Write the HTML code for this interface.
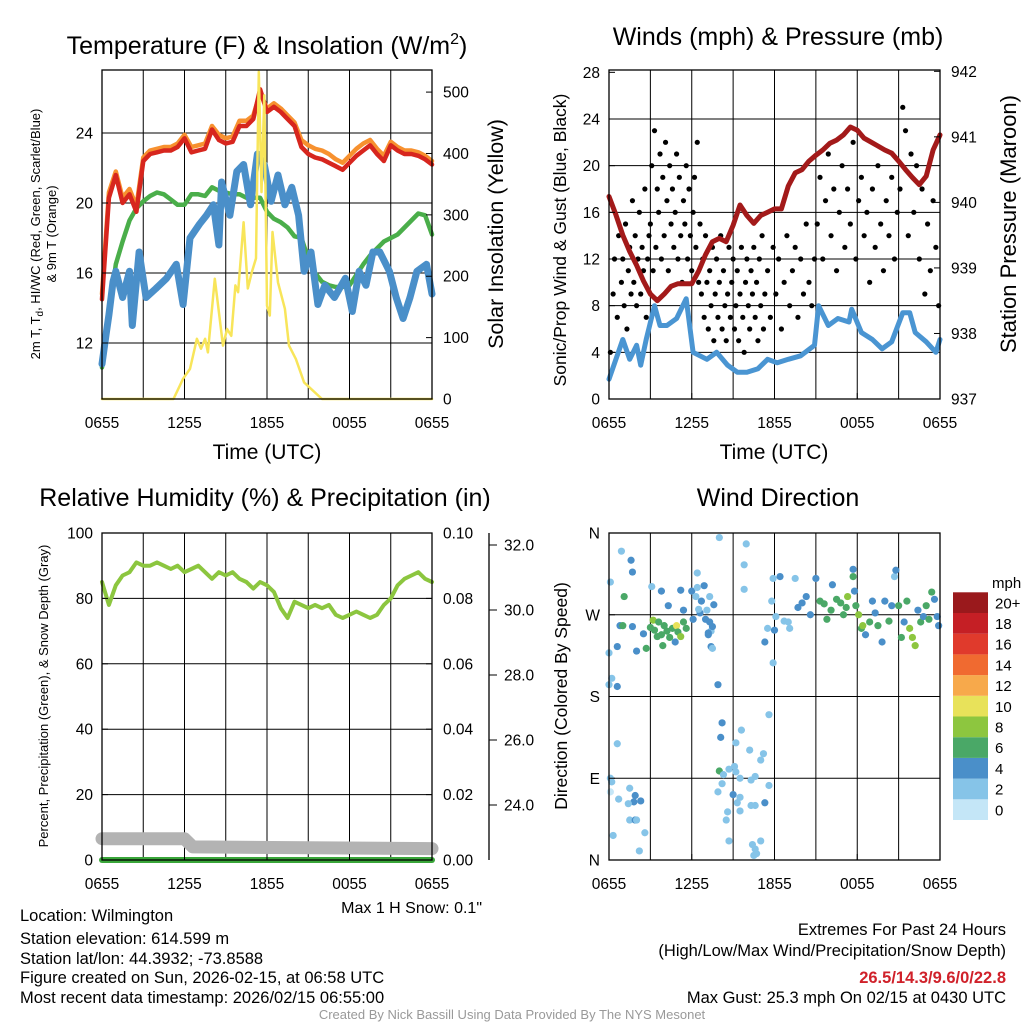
<!DOCTYPE html>
<html><head><meta charset="utf-8"><style>
body{margin:0;background:#fff}
svg{font-family:"Liberation Sans",Arial,sans-serif;display:block}
</style></head><body>
<svg id="c" width="1024" height="1024" viewBox="0 0 1024 1024"></svg>
<script>
// ---- data ----
const xTickLabels=["0655","1255","1855","0055","0655"];
const tempRed=[14.5,20.3,21.6,20,20.5,19.5,22.4,22.8,22.9,23,23,23.2,23.7,22.9,23,23.1,24.2,23.6,23.4,23.5,24.4,24.4,24.8,26.5,25.2,25.5,25.2,24.8,24.4,23.2,22.8,22.6,22.5,22.3,22.1,21.9,22.3,22.7,23,23.3,22.8,22.4,23.3,23,22.8,22.8,22.7,22.5,22.2];
const tempOrange=[14.8,20.6,21.8,20.3,20.8,19.8,22.6,23,23.1,23.2,23.2,23.4,23.9,23.2,23.3,23.4,24.4,23.9,23.7,23.8,24.7,24.7,25,26.3,25.4,25.7,25.4,25,24.6,23.6,23.3,23.1,23,22.8,22.5,22.3,22.7,23.1,23.4,23.6,23.1,22.7,23.5,23.2,23,23,22.9,22.7,22.4];
const tempGreen=[10.6,13.5,16.5,17.8,19.0,19.7,20.1,20.4,20.6,20.5,20.2,19.9,19.9,20.5,20.5,20.4,20.9,20.7,20.6,20.5,20.5,20.3,20.3,20.3,19.5,19.1,18.9,18.6,18.1,18.0,16.8,16.0,15.5,15.3,15.2,15.2,15.3,15.9,16.5,17.0,17.4,17.8,18.0,18.2,18.6,19.0,19.4,19.3,18.2];
const blueT=[0,0.3,0.5,0.8,1,1.5,2,2.2,2.7,3.2,3.9,4.7,5.4,5.9,6.4,7.1,7.6,8.1,8.5,8.7,9.3,9.8,10.3,10.8,11.3,11.8,12.3,12.8,13.3,13.8,14.3,14.7,15.2,15.7,16.2,16.9,17.7,18.2,18.7,19.2,19.7,20.2,20.9,21.4,21.9,22.4,22.9,23.6,24];
const blueV=[10.8,12.5,13.6,15.5,16.1,14.6,16.1,13,17.2,14.6,15.1,15.7,16.5,14.2,18,18.8,19.3,19.9,17.6,21.2,19.3,21.8,22.2,19.9,22.8,22.2,20.1,21.6,19.9,20.9,19.3,16.1,17.2,14.2,15.3,14.6,15.7,13.8,16.1,15.3,17.2,17.2,16.1,14.6,13.4,14.6,16.1,16.5,14.8];
const solarT=[0,5.2,5.9,6.4,6.9,7.2,7.5,7.7,8.2,8.8,9.1,9.4,9.7,9.9,10.3,10.6,10.9,11.2,11.4,11.6,11.8,12.0,12.2,12.4,12.8,13.3,13.6,14.1,14.7,16,24];
const solarV=[0,0,33,49,98,82,98,76,196,87,114,103,185,174,288,180,207,229,533,337,495,152,136,272,190,147,87,65,27,0,0];
const windT=[0,0.5,1,1.5,2,2.3,2.7,3.3,3.7,4.2,4.9,5.6,6.1,7.1,7.8,8.6,9.3,10,10.8,11.5,12.2,13,13.9,14.9,15.2,15.9,16.6,17.4,17.6,18.3,19.1,19.8,20.5,21.3,21.8,22.2,23,23.7,24];
const windV=[1.7,3.4,5.1,3.4,4.6,2.9,5.1,8,6.3,6.3,6.9,8.6,4,3.4,4,2.9,2.3,2.3,2.6,3.4,3.1,3.4,3.7,4.6,8,6.3,6.9,6.6,7.7,5.7,5.1,4.3,4.9,7.4,7.4,5.7,4.9,4,5.1];
const pressure=[940.09,939.81,939.5,939.25,939.04,938.8,938.6,938.5,938.6,938.72,938.76,938.76,938.76,938.95,939.2,939.4,939.45,939.4,939.65,939.96,939.8,939.68,939.8,939.85,939.9,939.9,940.25,940.45,940.5,940.63,940.72,940.8,940.9,940.95,941.03,941.15,941.1,940.98,940.92,940.86,940.8,940.75,940.63,940.5,940.38,940.27,940.4,940.8,941.03];
const gustT=[0.1,0.3,0.4,0.6,0.7,0.9,1.0,1.1,1.2,1.3,1.4,1.5,1.6,1.7,1.8,1.9,2.0,2.1,2.2,2.3,2.4,2.5,2.6,2.7,2.8,2.9,3.0,3.1,3.2,3.3,3.4,3.5,3.6,3.7,3.8,3.9,4.0,4.1,4.2,4.3,4.4,4.5,4.6,4.7,4.8,4.9,5.0,5.1,5.2,5.3,5.4,5.5,5.6,5.7,5.8,5.9,6.0,6.1,6.2,6.3,6.4,6.5,6.6,6.7,6.8,6.9,7.0,7.1,7.2,7.3,7.4,7.5,7.6,7.7,7.8,7.9,8.0,8.1,8.2,8.3,8.4,8.5,8.6,8.7,8.8,8.9,9.0,9.1,9.2,9.3,9.4,9.5,9.6,9.7,9.8,9.9,10.0,10.1,10.2,10.3,10.4,10.5,10.6,10.7,10.8,10.9,11.0,11.1,11.2,11.3,11.5,11.7,11.9,12.1,12.3,12.5,12.7,12.9,13.1,13.3,13.5,13.7,13.9,14.1,14.3,14.5,14.7,14.9,15.1,15.3,15.5,15.7,15.9,16.1,16.3,16.5,16.7,16.9,17.1,17.3,17.5,17.7,17.9,18.1,18.3,18.5,18.7,18.9,19.1,19.3,19.5,19.7,19.9,20.1,20.3,20.5,20.7,20.9,21.1,21.3,21.5,21.7,21.9,22.1,22.3,22.5,22.7,22.9,23.1,23.3,23.5,23.7,23.9];
const gustV=[4,9,12,7,14,10,12,8,15,6,11,13,9,17,10,14,8,12,16,9,13,11,18,7,12,14,15,20,11,23,13,18,16,21,12,19,14,22,17,11,20,15,18,13,16,21,12,19,14,10,17,15,20,12,18,14,11,16,19,13,22,10,15,9,12,7,14,10,6,11,8,13,5,9,12,7,10,14,6,11,8,5,9,13,7,10,12,6,8,11,5,9,13,7,4,10,12,8,6,11,9,13,7,10,5,12,8,14,6,9,11,7,13,9,12,6,10,14,8,11,13,7,12,9,15,10,8,12,15,19,12,17,21,14,18,11,16,20,13,18,15,22,12,17,19,14,16,10,18,13,20,15,11,17,14,19,12,16,18,25,23,14,21,16,20,12,18,9,15,11,17,13,8];
const rh=[85,78,84,87,88,91,90,90,91,90,89,90,88,89,90,88,86,88,87,88,86,85,83,85,84,82,77,74,79,78,77,78,77,78,75,74,75,76,75,74,75,78,80,84,86,87,88,86,85];
const snowT=[0,6,6.6,24];
const snowV=[6.5,6.5,4,3.5];
const dirT=[0.0,0.0,0.1,0.2,0.1,0.6,0.9,1.6,1.7,1.1,0.8,1.0,1.7,2.5,2.0,2.7,0.6,0.6,0.2,0.1,0.7,1.5,1.9,1.8,2.3,1.4,1.5,1.9,2.0,2.6,0.3,2.2,3.0,3.2,3.3,3.5,3.6,3.8,3.9,4.0,4.2,4.4,4.6,4.8,4.9,5.0,5.2,5.4,5.6,3.8,4.3,5.2,5.4,6.0,6.3,6.4,6.7,6.9,7.1,7.3,6.1,6.6,7.0,7.3,7.6,7.4,7.5,7.2,3.1,6.5,7.4,7.5,6.4,7.2,7.9,8.0,9.95,9.8,9.8,11.6,8.2,8.1,9.6,9.2,10.2,11.2,11.0,9.1,8.7,9.2,8.0,8.3,9.5,10.3,10.6,11.6,8.2,7.9,9.0,9.5,9.3,10.3,10.6,11.3,9.5,8.6,8.5,8.7,10.4,10.6,11.0,10.5,10.7,11.3,11.5,11.9,12.0,11.8,11.9,12.4,12.1,12.7,13.0,13.1,13.5,13.7,14.0,14.3,14.6,15.0,15.3,15.6,15.8,16.1,16.2,16.5,16.8,17.0,17.2,17.3,17.7,17.7,17.8,17.9,18.1,18.3,18.4,18.6,18.9,19.1,19.3,19.5,19.8,20.0,20.3,20.5,20.7,20.8,21.0,21.2,21.4,21.6,21.8,22.0,22.2,22.4,22.6,22.8,23.0,23.2,23.4,23.6,23.8,23.9];
const dirV=[228,193,306,200,90,235,340,330,317,290,258,258,257,249,230,233,191,128,86,75,67,79,71,64,65,62,44,44,44,30,27,10,256,264,253,246,262,248,236,258,252,245,255,240,258,251,246,262,255,296,280,297,275,296,290,300,285,302,275,262,265,272,265,290,281,252,257,248,301,276,235,233,316,250,193,355,348,325,298,160,151,135,143,129,121,117,110,103,100,97,98,94,90,88,92,82,84,75,72,69,63,60,60,63,54,53,44,21,17,12,21,5,7,240,255,217,253,285,310,312,268,263,262,255,310,278,283,290,270,310,285,282,265,275,303,287,283,270,278,290,320,312,296,280,270,255,258,248,262,285,272,258,240,285,263,280,312,319,280,245,262,285,255,245,236,275,262,268,280,265,295,287,268,258];
const dirS=[2,3,2,2,2,4,2,4,4,6,4,6,4,4,4,6,4,2,2,1,2,2,4,4,4,2,2,4,2,2,2,2,7,8,6,7,6,6,6,7,6,7,6,4,10,6,8,6,6,4,4,4,4,4,2,2,4,4,2,4,4,4,4,2,4,2,4,4,2,2,4,2,2,4,4,2,2,2,2,2,4,4,2,2,2,2,2,2,2,2,6,2,2,2,2,2,2,2,4,2,2,2,2,4,2,2,2,2,2,2,2,2,2,4,2,2,4,2,2,4,2,2,2,2,2,4,4,4,4,4,6,6,6,6,4,6,6,6,6,8,4,6,4,6,8,6,8,4,6,4,4,6,4,4,6,4,2,4,6,6,4,6,8,8,8,4,6,4,6,6,6,4,4,4];
const cbLabels=["0","2","4","6","8","10","12","14","16","18","20+"];
const cbColors=["#c4e6f7","#86c4e8","#4a8fc9","#4aa867","#8dc63f","#e8e25a","#f7a94b","#f06a30","#e03a2c","#c51f25","#9a191c"];

// ---- helpers ----
const NS="http://www.w3.org/2000/svg";
const svg=document.getElementById('c');
function el(tag,attrs,parent,text){const e=document.createElementNS(NS,tag);for(const k in attrs)e.setAttribute(k,attrs[k]);if(text!==undefined)e.textContent=text;(parent||svg).appendChild(e);return e;}
function panel(x0,x1,y0,y1){return {x:t=>x0+(x1-x0)*t/24,x0,x1,y0,y1};}
function ys(p,lo,hi){return v=>p.y1-(v-lo)/(hi-lo)*(p.y1-p.y0);}
function line(P,ts,vs,ysf,color,w,name){let d='';vs.forEach((v,i)=>{const t=ts?ts[i]:i*24/(vs.length-1);d+=(i?'L':'M')+P.x(t).toFixed(1)+' '+ysf(v).toFixed(1);});
 const e=el('path',{d,fill:'none',stroke:color,'stroke-width':w,'stroke-linejoin':'round','stroke-linecap':'round'});
 
 return e;}
function frame(P,name){
 const g=el('g',{});
 
 
 for(let i=1;i<8;i++){const x=P.x0+(P.x1-P.x0)*i/8;el('line',{x1:x,x2:x,y1:P.y0,y2:P.y1,stroke:'#000','stroke-width':1},g);}
 return g;}
function border(P){el('rect',{x:P.x0,y:P.y0,width:P.x1-P.x0,height:P.y1-P.y0,fill:'none',stroke:'#000','stroke-width':1.3});}
function xticks(P){xTickLabels.forEach((l,i)=>{const x=P.x0+(P.x1-P.x0)*i/4;el('line',{x1:x,x2:x,y1:P.y1,y2:P.y1-6,stroke:'#000'});
 const t=el('text',{x,y:P.y1+29,'font-size':15.5,'text-anchor':'middle'},svg,l);
 
 });}
function hgrid(P,ysf,vals){vals.forEach(v=>el('line',{x1:P.x0,x2:P.x1,y1:ysf(v),y2:ysf(v),stroke:'#000','stroke-width':1}));}
function lticks(P,ysf,vals,fmt){vals.forEach(v=>{const y=ysf(v);el('line',{x1:P.x0,x2:P.x0+6,y1:y,y2:y,stroke:'#000'});
 const t=el('text',{x:P.x0-9,y:y+5.5,'font-size':15.5,'text-anchor':'end'},svg,fmt(v));
 
 });}
function rticks(P,ysf,vals,fmt){const X=P.x1;vals.forEach(v=>{const y=ysf(v);el('line',{x1:X,x2:X-6,y1:y,y2:y,stroke:'#000'});
 const t=el('text',{x:X+11,y:y+5.5,'font-size':15.5},svg,fmt(v));
 
 });}
function txt(x,y,s,size,attrs,name){const t=el('text',Object.assign({x,y,'font-size':size},attrs||{}),svg,s);
 
 return t;}

// ---- Panel 1: temperature ----
const P1=panel(102,432,70,399);
const yT=ys(P1,8.8,27.6), yS=ys(P1,0,536);
frame(P1,'temperature-grid');hgrid(P1,yT,[12,16,20,24]);
line(P1,null,tempGreen,yT,'#4aae4a',4.5,'dewpoint-line');
line(P1,blueT,blueV,yT,'#4a8fc9',7,'wind-chill-line');
line(P1,null,tempOrange,yT,'#f7912f',4.5,'temp-9m-line');
line(P1,null,tempRed,yT,'#d7261e',4.5,'temp-2m-line');
line(P1,solarT,solarV,yS,'#f8e55a',2.5,'solar-insolation-line');
border(P1);xticks(P1);
lticks(P1,yT,[12,16,20,24],v=>v);
rticks(P1,yS,[0,100,200,300,400,500],v=>v);
const t1=txt(267,54,'Temperature (F) & Insolation (W/m',25,{'text-anchor':'middle'},'temperature-title');
el('tspan',{'font-size':16,dy:-10},t1,'2');el('tspan',{dy:10},t1,')');
txt(267,459,'Time (UTC)',21,{'text-anchor':'middle'},'x-axis-title');
txt(0,0,'2m T, T',13,{transform:'translate(40,234) rotate(-90)','text-anchor':'middle'},'left-axis-title').innerHTML='2m T, T<tspan font-size="10" dy="3">d</tspan><tspan dy="-3">, HI/WC (Red, Green, Scarlet/Blue)</tspan>';
txt(0,0,'& 9m T (Orange)',13,{transform:'translate(56,234) rotate(-90)','text-anchor':'middle'},'left-axis-title-2');
txt(0,0,'Solar Insolation (Yellow)',21.5,{transform:'translate(503,234) rotate(-90)','text-anchor':'middle'},'right-axis-title');

// ---- Panel 2: winds ----
const P2=panel(609,940,70,399);
const yW=ys(P2,0,28.2), yP=ys(P2,937,942.02);
frame(P2,'winds-grid');hgrid(P2,yW,[4,8,12,16,20,24]);
line(P2,windT,windV,yW,'#4a95d2',5,'wind-speed-line');
gustT.forEach((t,i)=>{const c=el('circle',{cx:P2.x(t),cy:yW(gustV[i]),r:2.6,fill:'#000'});
 
 });
line(P2,null,pressure,yP,'#a31a1a',5,'pressure-line');
border(P2);xticks(P2);
lticks(P2,yW,[0,4,8,12,16,20,24,28],v=>v);
rticks(P2,yP,[937,938,939,940,941,942],v=>v);
txt(778,45,'Winds (mph) & Pressure (mb)',25,{'text-anchor':'middle'},'winds-title');
txt(774,459,'Time (UTC)',21,{'text-anchor':'middle'},'x-axis-title-2');
txt(0,0,'Sonic/Prop Wind & Gust (Blue, Black)',17.5,{transform:'translate(566,240) rotate(-90)','text-anchor':'middle'},'wind-axis-title');
txt(0,0,'Station Pressure (Maroon)',22,{transform:'translate(1016,224) rotate(-90)','text-anchor':'middle'},'pressure-axis-title');

// ---- Panel 3: RH ----
const P3=panel(102,432,533,860);
const yR=ys(P3,0,100), yPr=ys(P3,0,0.1);
frame(P3,'rh-grid');hgrid(P3,yR,[20,40,60,80]);
line(P3,snowT,snowV,yR,'#b3b3b3',13,'snow-depth-line');
line(P3,[0,24],[0,0],yPr,'#3aa63a',6,'precip-line');
line(P3,null,rh,yR,'#8cc63f',4,'rh-line');
border(P3);xticks(P3);
lticks(P3,yR,[0,20,40,60,80,100],v=>v);
rticks(P3,yPr,[0,0.02,0.04,0.06,0.08,0.1],v=>v.toFixed(2));
el('line',{x1:489,x2:489,y1:533,y2:860,stroke:'#000','stroke-width':1.3});
const ySn=v=>545+(32-v)/2*65;
[24,26,28,30,32].forEach(v=>{el('line',{x1:489,x2:497,y1:ySn(v),y2:ySn(v),stroke:'#000'});txt(504,ySn(v)+5.5,v.toFixed(1),15.5,{},'snow-tick-label');});
txt(265,506,'Relative Humidity (%) & Precipitation (in)',25,{'text-anchor':'middle'},'rh-title');
txt(0,0,'Percent, Precipitation (Green), & Snow Depth (Gray)',13,{transform:'translate(48,696) rotate(-90)','text-anchor':'middle'},'rh-axis-title');
txt(482,913,'Max 1 H Snow: 0.1"',16,{'text-anchor':'end'},'max-snow-text');

// ---- Panel 4: direction ----
const P4=panel(609,940,533,860);
const yD=ys(P4,0,360);
frame(P4,'direction-grid');hgrid(P4,yD,[90,180,270]);
dirT.forEach((t,i)=>{const c=el('circle',{cx:P4.x(t),cy:yD(dirV[i]),r:3.6,fill:cbColors[Math.min(10,Math.floor(dirS[i]/2))]});
 
 });
border(P4);xticks(P4);
lticks(P4,yD,[0,90,180,270,360],v=>['N','E','S','W','N'][v/90]);
txt(778,506,'Wind Direction',25,{'text-anchor':'middle'},'direction-title');
txt(0,0,'Direction (Colored By Speed)',17.5,{transform:'translate(567,696) rotate(-90)','text-anchor':'middle'},'direction-axis-title');
txt(992,588,'mph',15,{},'colorbar-title');
cbColors.forEach((c,i)=>{const y=820-(i+1)*20.7;const r=el('rect',{x:953,y,width:35,height:20.7,fill:c});
 
 
 txt(995,y+16,cbLabels[i],15,{},'colorbar-label');});

// ---- footer ----
const footY=[921,944,964,983,1003];
['Location: Wilmington','Station elevation: 614.599 m','Station lat/lon: 44.3932; -73.8588','Figure created on Sun, 2026-02-15, at 06:58 UTC','Most recent data timestamp: 2026/02/15 06:55:00'].forEach((s,i)=>txt(20,footY[i],s,16.5,{},'station-info-line'));
txt(1006,935,'Extremes For Past 24 Hours',16.5,{'text-anchor':'end'},'extremes-title');
txt(1006,956,'(High/Low/Max Wind/Precipitation/Snow Depth)',16.5,{'text-anchor':'end'},'extremes-subtitle');
txt(1006,983,'26.5/14.3/9.6/0/22.8',16.5,{'text-anchor':'end',fill:'#d0212a','font-weight':'bold'},'extremes-values');
txt(1006,1003,'Max Gust: 25.3 mph On 02/15 at 0430 UTC',16.5,{'text-anchor':'end'},'max-gust-text');
txt(512,1019,'Created By Nick Bassill Using Data Provided By The NYS Mesonet',13,{'text-anchor':'middle',fill:'#999'},'credit-text');
</script>
</body></html>
